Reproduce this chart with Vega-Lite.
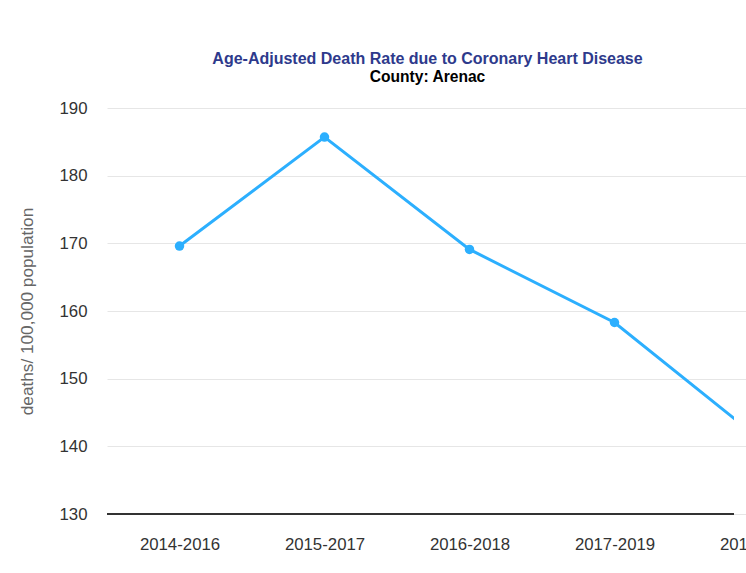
{
  "$schema": "https://vega.github.io/schema/vega-lite/v6.json",
  "width": 627,
  "height": 406,
  "autosize": {"type": "none"},
  "padding": {"left": 107, "top": 108, "right": 12, "bottom": 59},
  "background": "white",
  "config": {
    "view": {"stroke": null},
    "font": "Liberation Sans"
  },
  "title": {
    "text": "Age-Adjusted Death Rate due to Coronary Heart Disease",
    "subtitle": "County: Arenac",
    "anchor": "middle",
    "dx": 7,
    "font": "Liberation Sans",
    "fontSize": 16,
    "fontWeight": "bold",
    "color": "#2e3a8c",
    "subtitleFont": "Liberation Sans",
    "subtitleFontSize": 15.6,
    "subtitleFontWeight": "bold",
    "subtitleColor": "#000000",
    "subtitlePadding": 3,
    "offset": 14
  },
  "data": {
    "values": [
      {"period": "2014-2016", "rate": 169.6},
      {"period": "2015-2017", "rate": 185.7},
      {"period": "2016-2018", "rate": 169.1},
      {"period": "2017-2019", "rate": 158.3},
      {"period": "2018-2020", "rate": 141.1}
    ]
  },
  "layer": [
    {
      "mark": {"type": "rule", "color": "#333333", "strokeWidth": 1.5},
      "encoding": {"y": {"datum": 130, "type": "quantitative", "scale": {"domain": [130, 190]}}}
    },
    {
      "mark": {"type": "line", "color": "#2caffe", "strokeWidth": 3, "clip": true},
      "encoding": {
        "x": {
          "field": "period",
          "type": "ordinal",
          "sort": null,
          "scale": {"type": "point", "padding": 0.5, "range": [0, 725]},
          "axis": {
            "title": null,
            "labelAngle": 0,
            "labelFontSize": 16.8,
            "labelColor": "#333333",
            "labelPadding": 22,
            "ticks": false,
            "tickSize": 0,
            "domain": false,
            "grid": false
          }
        },
        "y": {
          "field": "rate",
          "type": "quantitative",
          "scale": {"domain": [130, 190], "nice": false, "zero": false},
          "axis": {
            "title": "deaths/ 100,000 population",
            "titleFontSize": 17.2,
            "titleFontWeight": "normal",
            "titleColor": "#666666",
            "titlePadding": 23,
            "values": [130, 140, 150, 160, 170, 180, 190],
            "labelFontSize": 16.8,
            "labelColor": "#333333",
            "labelPadding": 20,
            "ticks": false,
            "tickSize": 0,
            "domain": false,
            "grid": true,
            "gridColor": "#e6e6e6",
            "gridWidth": 1
          }
        }
      }
    },
    {
      "mark": {"type": "point", "filled": true, "color": "#2caffe", "size": 90, "opacity": 1, "clip": true},
      "encoding": {
        "x": {"field": "period", "type": "ordinal", "sort": null},
        "y": {"field": "rate", "type": "quantitative"}
      }
    }
  ]
}
